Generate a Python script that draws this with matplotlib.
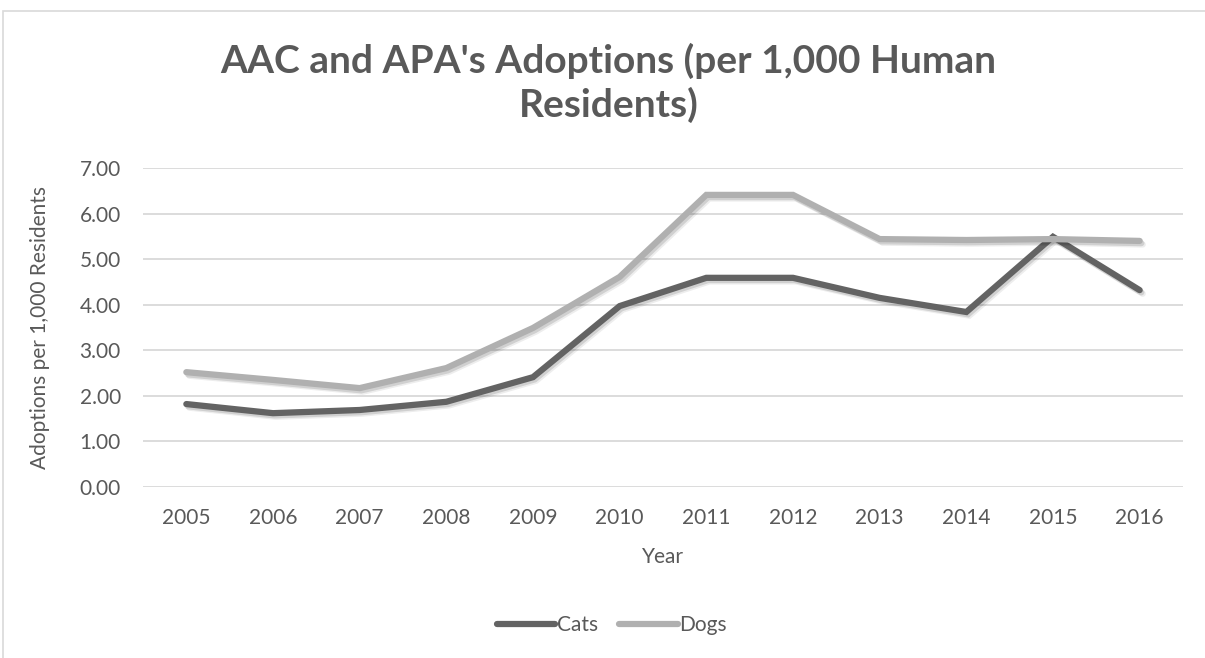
import matplotlib.pyplot as plt
import matplotlib.patheffects as pe
from matplotlib.patches import Rectangle
from matplotlib.lines import Line2D

# Data
years = ['2005', '2006', '2007', '2008', '2009', '2010',
         '2011', '2012', '2013', '2014', '2015', '2016']
cats = [1.82, 1.62, 1.69, 1.87, 2.41, 3.97, 4.59, 4.59, 4.15, 3.84, 5.49, 4.32]
dogs = [2.52, 2.35, 2.17, 2.61, 3.49, 4.61, 6.41, 6.41, 5.44, 5.42, 5.44, 5.40]

TEXT = '#595959'
CAT_COLOR = '#636363'
DOG_COLOR = '#b0b0b0'
plt.rcParams['font.family'] = ['Lato', 'DejaVu Sans']

fig = plt.figure(figsize=(12.05, 6.58), dpi=100)
ax = fig.add_axes([143 / 1205, 1 - 487 / 658, (1183 - 143) / 1205, (487 - 168) / 658])

# Outer chart border
fig.patches.append(Rectangle((3 / 1205, -0.1), 1.2, 1 - 11 / 658 + 0.1,
                             transform=fig.transFigure, fill=False,
                             edgecolor='#d9d9d9', linewidth=1.2))

x = range(len(years))
# soft drop shadow like the spreadsheet chart
shadow = [pe.SimpleLineShadow(offset=(2.2, -2.6), shadow_color='black', alpha=0.07),
          pe.SimpleLineShadow(offset=(1.2, -1.6), shadow_color='black', alpha=0.12),
          pe.Normal()]
ax.plot(x, cats, color=CAT_COLOR, lw=4.5, solid_capstyle='round',
        solid_joinstyle='miter', path_effects=shadow, zorder=3)
ax.plot(x, dogs, color=DOG_COLOR, lw=4.5, solid_capstyle='round',
        solid_joinstyle='miter', path_effects=shadow, zorder=3)

ax.set_xlim(-0.5, len(years) - 0.5)
ax.set_ylim(0, 7)
ax.set_yticks([0, 1, 2, 3, 4, 5, 6, 7])
ax.set_yticklabels([f'{v:.2f}' for v in range(8)])
ax.set_xticks(list(x))
ax.set_xticklabels(years)
ax.grid(axis='y', color='#d9d9d9', lw=1.3)
ax.set_axisbelow(True)
for s in ax.spines.values():
    s.set_visible(False)
ax.tick_params(length=0, labelsize=15, colors=TEXT)
ax.tick_params(axis='x', pad=15)
ax.tick_params(axis='y', pad=16)

ax.set_xlabel('Year', fontsize=15, color=TEXT, labelpad=14)
ax.set_ylabel('Adoptions per 1,000 Residents', fontsize=15, color=TEXT, labelpad=21)

fig.text(0.505, 1 - 61 / 658, "AAC and APA's Adoptions (per 1,000 Human", ha='center',
         va='center', fontsize=28, fontweight='bold', color=TEXT)
fig.text(0.505, 1 - 105 / 658, 'Residents)', ha='center', va='center',
         fontsize=28, fontweight='bold', color=TEXT)

handles = [Line2D([], [], color=CAT_COLOR, lw=4.5, solid_capstyle='round'),
           Line2D([], [], color=DOG_COLOR, lw=4.5, solid_capstyle='round')]
fig.legend(handles, ['Cats', 'Dogs'], loc='center',
           bbox_to_anchor=(612 / 1205, 1 - 625 / 658), ncol=2,
           frameon=False, fontsize=15, labelcolor=TEXT, handlelength=2.8,
           handletextpad=0.1, columnspacing=1.0)

fig.savefig('out.png', dpi=100)
